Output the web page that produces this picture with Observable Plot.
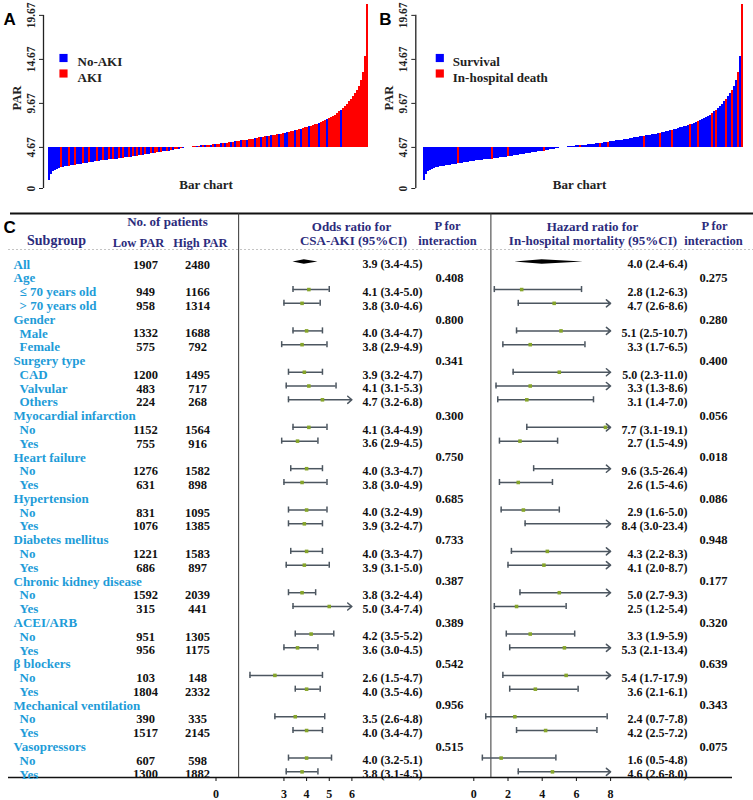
<!DOCTYPE html>
<html><head><meta charset="utf-8">
<script src="https://cdn.jsdelivr.net/npm/d3@7"></script>
<script src="https://cdn.jsdelivr.net/npm/@observablehq/plot@0.6"></script>
<style>
body{margin:0;background:#fff;}
#wrap{position:relative;width:753px;height:800px;overflow:hidden;background:#fff;}
</style></head><body><div id="wrap"></div>
<script>
// ---------------- DATA ----------------
// PAR values of patients, sorted ascending
const PAR_SORTED = [
0.94,1.60,1.90,2.06,2.19,2.30,2.35,2.40,2.46,2.51,
2.55,2.59,2.63,2.66,2.70,2.74,2.77,2.81,2.85,2.88,
2.92,2.95,2.99,3.03,3.06,3.10,3.13,3.16,3.18,3.21,
3.24,3.27,3.30,3.32,3.35,3.38,3.41,3.44,3.48,3.51,
3.54,3.57,3.60,3.63,3.67,3.71,3.74,3.78,3.82,3.85,
3.89,3.93,3.97,4.00,4.04,4.08,4.11,4.15,4.18,4.22,
4.26,4.30,4.34,4.38,4.42,4.46,4.50,4.55,4.61,4.66,
4.69,4.71,4.74,4.76,4.79,4.81,4.83,4.85,4.88,4.90,
4.92,4.94,4.96,4.99,5.01,5.03,5.06,5.10,5.13,5.16,
5.19,5.23,5.26,5.29,5.33,5.37,5.40,5.44,5.47,5.51,
5.54,5.58,5.62,5.66,5.70,5.74,5.78,5.82,5.86,5.90,
5.94,5.98,6.02,6.06,6.10,6.14,6.19,6.23,6.27,6.35,
6.41,6.47,6.53,6.59,6.64,6.69,6.75,6.82,6.89,6.95,
7.02,7.09,7.16,7.23,7.30,7.38,7.49,7.60,7.71,7.83,
7.94,8.05,8.17,8.30,8.50,8.71,8.91,9.11,9.32,9.55,
9.85,10.10,10.43,10.77,11.11,11.55,12.24,13.20,15.00,20.90];
// 1 = AKI, 0 = No-AKI (same order as PAR_SORTED)
const AKI_FLAG = [
0,0,0,0,0,
0,1,0,0,0,1,0,0,1,0,0,0,1,0,0,1,0,0,0,1,0,
0,1,0,0,1,0,1,0,0,1,0,1,0,0,1,0,1,0,1,0,
1,0,1,0,0,1,0,1,1,0,1,0,0,1,0,1,0,1,1,0,1,0,1,0,
1,0,1,1,0,1,0,1,0,1,1,0,1,0,1,1,0,1,0,1,1,0,1,0,1,1,0,1,1,0,1,
1,1,0,1,1,0,1,1,0,1,0,1,1,1,0,1,1,0,0,1,1,1,0,1,1,0,
1,1,1,0,1,1,1,1,0,1,1,1,0,1,1,1,1,
1,1,0,1,1,1,1,1,1,1,1,1,1,1,1,1];
// positions (in PAR_SORTED) of in-hospital deaths
const DEATH_INDEX = [17,34,42,60,78,88,92,110,118,124,133,137,144,146,151,154,157,159];
const PAR_TICKS = [0, 4.67, 9.67, 14.67, 19.67];
const PAR_MEDIAN = 4.67;
const LEGEND_A = ["No-AKI", "AKI"];
const LEGEND_B = ["Survival", "In-hospital death"];

const LABELS = ["All","Age","≤ 70 years old","> 70 years old","Gender","Male","Female","Surgery type","CAD","Valvular","Others","Myocardial infarction","No","Yes","Heart failure","No","Yes","Hypertension","No","Yes","Diabetes mellitus","No","Yes","Chronic kidney disease","No","Yes","ACEI/ARB","No","Yes","β blockers","No","Yes","Mechanical ventilation","No","Yes","Vasopressors","No","Yes"];
const IS_SUB = [0,0,1,1,0,1,1,0,1,1,1,0,1,1,0,1,1,0,1,1,0,1,1,0,1,1,0,1,1,0,1,1,0,1,1,0,1,1];
const LOW_N = [1907,null,949,958,null,1332,575,null,1200,483,224,null,1152,755,null,1276,631,null,831,1076,null,1221,686,null,1592,315,null,951,956,null,103,1804,null,390,1517,null,607,1300];
const HIGH_N = [2480,null,1166,1314,null,1688,792,null,1495,717,268,null,1564,916,null,1582,898,null,1095,1385,null,1583,897,null,2039,441,null,1305,1175,null,148,2332,null,335,2145,null,598,1882];
const OR_EST = [3.9,null,4.1,3.8,null,4.0,3.8,null,3.9,4.1,4.7,null,4.1,3.6,null,4.0,3.8,null,4.0,3.9,null,4.0,3.9,null,3.8,5.0,null,4.2,3.6,null,2.6,4.0,null,3.5,4.0,null,4.0,3.8];
const OR_LO = [3.4,null,3.4,3.0,null,3.4,2.9,null,3.2,3.1,3.2,null,3.4,2.9,null,3.3,3.0,null,3.2,3.2,null,3.3,3.1,null,3.2,3.4,null,3.5,3.0,null,1.5,3.5,null,2.6,3.4,null,3.2,3.1];
const OR_HI = [4.5,null,5.0,4.6,null,4.7,4.9,null,4.7,5.3,6.8,null,4.9,4.5,null,4.7,4.9,null,4.9,4.7,null,4.7,5.0,null,4.4,7.4,null,5.2,4.5,null,4.7,4.6,null,4.8,4.7,null,5.1,4.5];
const P_OR = [null,"0.408",null,null,"0.800",null,null,"0.341",null,null,null,"0.300",null,null,"0.750",null,null,"0.685",null,null,"0.733",null,null,"0.387",null,null,"0.389",null,null,"0.542",null,null,"0.956",null,null,"0.515",null,null];
const HR_EST = [4.0,null,2.8,4.7,null,5.1,3.3,null,5.0,3.3,3.1,null,7.7,2.7,null,9.6,2.6,null,2.9,8.4,null,4.3,4.1,null,5.0,2.5,null,3.3,5.3,null,5.4,3.6,null,2.4,4.2,null,1.6,4.6];
const HR_LO = [2.4,null,1.2,2.6,null,2.5,1.7,null,2.3,1.3,1.4,null,3.1,1.5,null,3.5,1.5,null,1.6,3.0,null,2.2,2.0,null,2.7,1.2,null,1.9,2.1,null,1.7,2.1,null,0.7,2.5,null,0.5,2.6];
const HR_HI = [6.4,null,6.3,8.6,null,10.7,6.5,null,11.0,8.6,7.0,null,19.1,4.9,null,26.4,4.6,null,5.0,23.4,null,8.3,8.7,null,9.3,5.4,null,5.9,13.4,null,17.9,6.1,null,7.8,7.2,null,4.8,8.0];
const P_HR = [null,"0.275",null,null,"0.280",null,null,"0.400",null,null,null,"0.056",null,null,"0.018",null,null,"0.086",null,null,"0.948",null,null,"0.177",null,null,"0.320",null,null,"0.639",null,null,"0.343",null,null,"0.075",null,null];
const OR_TICKS = [0, 3, 4, 5, 6];
const HR_TICKS = [0, 2, 4, 6, 8];

// ---------------- STYLE / LAYOUT ----------------
const SERIF = "'Liberation Serif','Times New Roman',serif";
const SANS = "'Liberation Sans',Arial,sans-serif";
const BLUE = "#0000ff", RED = "#ff0000";
const LABEL_BLUE = "#1e9cd8", NAVY = "#2c2b7c", CI_COLOR = "#4c5660", GREEN = "#86a52a";
const BASE_STYLE = {fontFamily: SERIF, fontWeight: "bold", background: "transparent", overflow: "visible"};
const wrap = document.getElementById("wrap");
function place(el, left, top) {
  el.style.position = "absolute"; el.style.left = left + "px"; el.style.top = top + "px";
  wrap.appendChild(el);
}

// ---------------- PANELS A & B ----------------
function barPanel(o) {
  const bars = PAR_SORTED.map((v, i) => ({i, v, f: o.flags[i]}));
  const txt = (s, opts) => Plot.text([s], {text: d => d, frameAnchor: "top-left", ...opts});
  return Plot.plot({
    width: o.width, height: 200,
    marginLeft: o.marginLeft, marginRight: o.marginRight, marginTop: 0, marginBottom: 12,
    style: {...BASE_STYLE, fontSize: "11.5px", color: "#222"},
    x: {domain: [-o.gap, PAR_SORTED.length], axis: null},
    y: {domain: [0, 21.36], ticks: PAR_TICKS, tickSize: 4, tickRotate: -90, tickFormat: d => String(d), label: null},
    color: {type: "ordinal", domain: [0, 1], range: [BLUE, RED]},
    marks: [
      Plot.rectY(bars, {x1: "i", x2: d => d.i + 1, y1: () => PAR_MEDIAN, y2: "v", fill: "f", shapeRendering: "crispEdges"}),
      Plot.ruleX([-o.gap], {y1: () => 0, y2: () => PAR_TICKS[PAR_TICKS.length - 1], stroke: "#222", strokeWidth: 1.3}),
      txt("PAR", {dx: o.parDx, dy: 110, rotate: -90, fontSize: 12.5, fill: "#222"}),
      txt(o.label, {dx: o.labelDx, dy: 12, textAnchor: "start", fontFamily: SANS, fontSize: 17, fill: "#000"}),
      Plot.text(["Bar chart"], {text: d => d, frameAnchor: "bottom", fontSize: 13, fill: "#222"}),
      Plot.dot([0], {frameAnchor: "top-left", dx: o.swatchDx, dy: 57.5, symbol: "square", r: 4.6, fill: BLUE}),
      Plot.dot([0], {frameAnchor: "top-left", dx: o.swatchDx, dy: 73, symbol: "square", r: 4.6, fill: RED}),
      txt(o.legend[0], {dx: o.legendDx, dy: 56, textAnchor: "start", fontSize: 13, fill: "#222"}),
      txt(o.legend[1], {dx: o.legendDx, dy: 72.5, textAnchor: "start", fontSize: 13, fill: "#222"})
    ]
  });
}
place(barPanel({label: "A", flags: AKI_FLAG, legend: LEGEND_A, width: 376, marginLeft: 43, marginRight: 8, gap: 2.5,
  parDx: -31, labelDx: -40, swatchDx: 20, legendDx: 34}), 0, 0);
const deathFlags = PAR_SORTED.map((_, i) => DEATH_INDEX.includes(i) ? 1 : 0);
place(barPanel({label: "B", flags: deathFlags, legend: LEGEND_B, width: 377, marginLeft: 39.3, marginRight: 10.3, gap: 3.7,
  parDx: -31.3, labelDx: -36.6, swatchDx: 24, legendDx: 37}), 376, 0);

// ---------------- PANEL C ----------------
const ROW0 = 64, STEP = 13.78, FRAME_BOTTOM = 577;      // pixel layout of the table rows
const Y_DOMAIN = [-ROW0 / STEP, (FRAME_BOTTOM - ROW0) / STEP];
const rowAt = absY => (absY - 200 - ROW0) / STEP;
const TOP_ROW = rowAt(213), DOT_ROW = rowAt(249);
const CI_DY = -2.5, CAP = 0.22, DIAMOND_HALF = 0.17;
const ciText = (e, l, h) => e == null ? null : `${e.toFixed(1)} (${l.toFixed(1)}-${h.toFixed(1)})`;

const rows = LABELS.map((label, r) => ({
  r, label, sub: IS_SUB[r], low: LOW_N[r], high: HIGH_N[r],
  orTxt: ciText(OR_EST[r], OR_LO[r], OR_HI[r]), hrTxt: ciText(HR_EST[r], HR_LO[r], HR_HI[r]),
  pOr: P_OR[r], pHr: P_HR[r]
}));

const COL = {label: 13, sub: 19, low: 145, high: 197, orText: 422, pOr: 463, hrText: 687, pHr: 727};
const head = (s, x, absY, opts = {}) => Plot.text([s], {text: d => d, x: () => x, y: () => rowAt(absY), fill: NAVY, fontSize: 13, ...opts});

const table = Plot.plot({
  width: 753, height: 600, marginTop: 0, marginBottom: 600 - FRAME_BOTTOM, marginLeft: 0, marginRight: 0,
  style: {...BASE_STYLE, fontSize: "12.5px", color: "#111"},
  x: {type: "identity", axis: null},
  y: {domain: Y_DOMAIN, range: [0, FRAME_BOTTOM], axis: null},
  marks: [
    Plot.ruleY([TOP_ROW], {x1: () => 10, x2: () => 753, stroke: "#111", strokeWidth: 2}),
    Plot.ruleY([DOT_ROW], {x1: () => 8, x2: () => 753, stroke: "#c4c4c4", strokeDasharray: "2,2"}),
    Plot.ruleY([Y_DOMAIN[1]], {x1: () => 8, x2: () => 732, stroke: "#111", strokeWidth: 1.5}),
    Plot.text(["C"], {text: d => d, x: () => 3, y: () => rowAt(227), textAnchor: "start", fontFamily: SANS, fontSize: 17, fill: "#000"}),
    head("No. of patients", 167, 221),
    head("Subgroup", 56, 240, {fontSize: 14}),
    head("Low PAR", 138, 242, {fontSize: 12.5}),
    head("High PAR", 200, 242, {fontSize: 12.5}),
    head("Odds ratio for", 351, 226),
    head("CSA-AKI (95%CI)", 353, 240.5),
    head("P for", 447, 225.5, {fontSize: 12.5}),
    head("interaction", 447, 240, {fontSize: 12.5}),
    head("Hazard ratio for", 592, 226),
    head("In-hospital mortality (95%CI)", 592.5, 240.5),
    head("P for", 714, 225.5, {fontSize: 12.5}),
    head("interaction", 713, 240, {fontSize: 12.5}),
    Plot.text(rows, {x: d => d.sub ? COL.sub : COL.label, y: "r", text: "label", textAnchor: "start", fill: LABEL_BLUE, fontSize: 13}),
    Plot.text(rows.filter(d => d.low != null), {x: () => COL.low, y: "r", text: d => String(d.low), fill: "#111"}),
    Plot.text(rows.filter(d => d.high != null), {x: () => COL.high, y: "r", text: d => String(d.high), fill: "#111"}),
    Plot.text(rows.filter(d => d.orTxt), {x: () => COL.orText, y: "r", text: "orTxt", textAnchor: "end", fontSize: 12, fill: "#111"}),
    Plot.text(rows.filter(d => d.hrTxt), {x: () => COL.hrText, y: "r", text: "hrTxt", textAnchor: "end", fontSize: 12, fill: "#111"}),
    Plot.text(rows.filter(d => d.pOr), {x: () => COL.pOr, y: "r", text: "pOr", textAnchor: "end", fontSize: 12.5, fill: "#111"}),
    Plot.text(rows.filter(d => d.pHr), {x: () => COL.pHr, y: "r", text: "pHr", textAnchor: "end", fontSize: 12.5, fill: "#111"})
  ]
});
place(table, 0, 200);

function forestPanel(o) {
  const data = LABELS.map((_, r) => ({r, est: o.est[r], lo: o.lo[r], hi: o.hi[r]})).filter(d => d.est != null);
  const summary = data.filter(d => d.r === 0);
  const ci = data.filter(d => d.r !== 0);
  const capped = ci.filter(d => d.hi < o.max);
  const arrowed = ci.filter(d => d.hi >= o.max);
  const diamond = summary.flatMap(d => [
    {x: d.lo, y1: d.r, y2: d.r},
    {x: d.est, y1: d.r - DIAMOND_HALF, y2: d.r + DIAMOND_HALF},
    {x: d.hi, y1: d.r, y2: d.r}]);
  const lineStyle = {stroke: CI_COLOR, strokeWidth: 1.5, dy: CI_DY};
  return Plot.plot({
    width: 753, height: 600, marginTop: 0, marginBottom: 600 - FRAME_BOTTOM,
    marginLeft: o.marginLeft, marginRight: o.marginRight,
    style: {...BASE_STYLE, fontSize: "12px", color: "#111"},
    x: {domain: [0, o.max], ticks: o.ticks, tickSize: 4, tickPadding: 8, tickFormat: d => String(d), label: null},
    y: {domain: Y_DOMAIN, range: [0, FRAME_BOTTOM], axis: null},
    marks: [
      Plot.ruleX([1], {y1: () => TOP_ROW, y2: () => Y_DOMAIN[1], stroke: "#333", strokeWidth: 1}),
      Plot.areaY(diamond, {x: "x", y1: "y1", y2: "y2", fill: "#000", dy: CI_DY}),
      Plot.ruleY(capped, {x1: "lo", x2: "hi", y: "r", ...lineStyle}),
      Plot.ruleX(ci, {x: "lo", y1: d => d.r - CAP, y2: d => d.r + CAP, ...lineStyle}),
      Plot.ruleX(capped, {x: "hi", y1: d => d.r - CAP, y2: d => d.r + CAP, ...lineStyle}),
      Plot.arrow(arrowed, {x1: "lo", x2: d => Math.min(d.hi, o.max), y1: "r", y2: "r", headLength: 5.5, headAngle: 80, ...lineStyle}),
      Plot.dot(ci.filter(d => d.est <= o.max), {x: "est", y: "r", symbol: "square", r: 2, fill: GREEN, dy: CI_DY})
    ]
  });
}
place(forestPanel({est: OR_EST, lo: OR_LO, hi: OR_HI, max: 6, ticks: OR_TICKS, marginLeft: 215.5, marginRight: 753 - 351.4}), 0, 200);
place(forestPanel({est: HR_EST, lo: HR_LO, hi: HR_HI, max: 8, ticks: HR_TICKS, marginLeft: 473.3, marginRight: 753 - 610.1}), 0, 200);
</script></body></html>
